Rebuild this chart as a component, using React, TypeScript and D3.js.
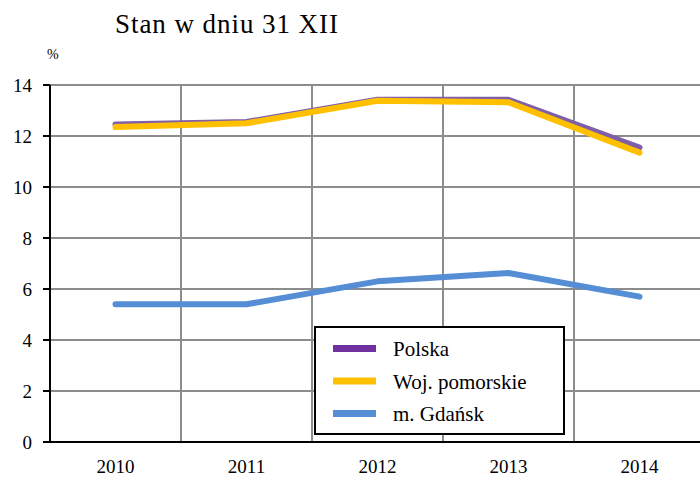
import React from "react";
import * as d3 from "d3";

const years = ["2010", "2011", "2012", "2013", "2014"];
const polska = [12.45, 12.55, 13.42, 13.42, 11.55];
const pomorskie = [12.35, 12.5, 13.38, 13.32, 11.35];
const gdansk = [5.4, 5.4, 6.3, 6.63, 5.7];
const yTicks = [0, 2, 4, 6, 8, 10, 12, 14];
const seriesNames = ["Polska", "Woj. pomorskie", "m. Gdańsk"];
const seriesColors = ["#7F5FA8", "#FFC000", "#558ED5"];
const legendColors = ["#7030A0", "#FFC000", "#558ED5"];

export default function App() {
  const W = 700, H = 477;
  const left = 50, right = 705, top = 85, bottom = 442;
  const x = d3.scaleBand().domain(years).range([left, right]);
  const y = d3.scaleLinear().domain([0, 14]).range([bottom, top]);
  const line = d3.line<number>()
    .x((_, i) => (x(years[i]) as number) + x.bandwidth() / 2)
    .y((d) => y(d));
  const data = [polska, pomorskie, gdansk];
  const font = "'Liberation Serif', 'Times New Roman', serif";
  return (
    <svg width={W} height={H} style={{ position: "absolute", left: 0, top: 0, background: "#fff", fontFamily: font }}>
      <rect x={0} y={0} width={W} height={H} fill="#fff" />
      <text x={115} y={33} fontSize={27} fill="#000" textLength={223} lengthAdjust="spacing">Stan w dniu 31 XII</text>
      <text x={47} y={59} fontSize={14} fill="#000">%</text>
      {yTicks.filter((t) => t > 0).map((t) => (
        <line key={"h" + t} x1={left} x2={W} y1={y(t)} y2={y(t)} stroke="#8c8c8c" strokeWidth={2} />
      ))}
      {years.slice(1).map((yr) => (
        <line key={"v" + yr} x1={x(yr)} x2={x(yr)} y1={top} y2={bottom} stroke="#8c8c8c" strokeWidth={2} />
      ))}
      <line x1={left} x2={left} y1={top} y2={bottom} stroke="#000" strokeWidth={2} />
      <line x1={44} x2={W} y1={bottom} y2={bottom} stroke="#000" strokeWidth={2} />
      {yTicks.map((t) => (
        <g key={"t" + t}>
          <line x1={43} x2={left} y1={y(t)} y2={y(t)} stroke="#000" strokeWidth={2} />
          <text x={32} y={y(t)} dy="0.35em" textAnchor="end" fontSize={19} fill="#000">{t}</text>
        </g>
      ))}
      {years.map((yr) => (
        <text key={"x" + yr} x={(x(yr) as number) + x.bandwidth() / 2} y={473} textAnchor="middle" fontSize={19} fill="#000">{yr}</text>
      ))}
      {data.map((s, i) => (
        <path key={"s" + i} d={line(s) as string} fill="none" stroke={seriesColors[i]} strokeWidth={6} strokeLinecap="round" strokeLinejoin="round" />
      ))}
      <rect x={315} y={327} width={249} height={107} fill="#fff" stroke="#000" strokeWidth={2} />
      {seriesNames.map((n, i) => (
        <g key={"l" + n}>
          <rect x={333} y={345 + i * 32.5} width={43} height={7} fill={legendColors[i]} />
          <text x={393} y={349 + i * 32.5} dy="0.35em" fontSize={21} fill="#000">{n}</text>
        </g>
      ))}
    </svg>
  );
}
